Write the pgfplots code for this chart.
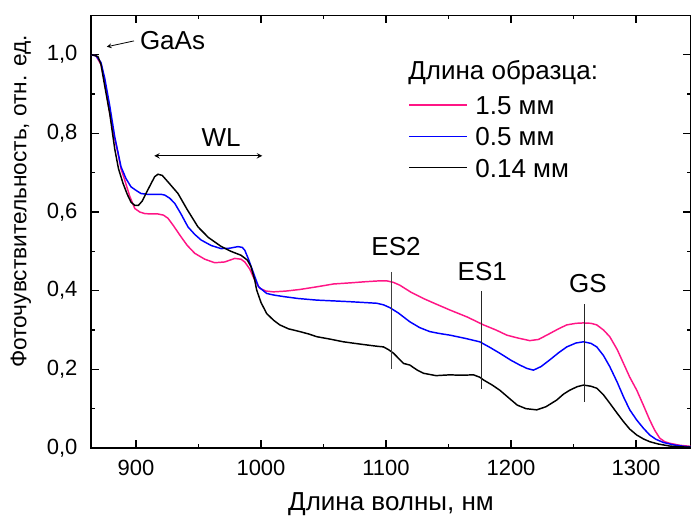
\documentclass[border=0pt]{standalone}
\usepackage{fontspec}
\setmainfont{Liberation Sans}
\usepackage{pgfplots}
\pgfplotsset{compat=1.18}

\definecolor{pinkline}{HTML}{FF1585}
\newcommand{\annfont}{\fontsize{19.5}{23}\selectfont}

\begin{document}
\begin{tikzpicture}
\begin{axis}[
    scale only axis,
    width=450pt, height=324.5pt,
    xmin=864, xmax=1344, ymin=0, ymax=1.1,
    clip=false,
    axis line style={line width=1.1pt},
    every tick/.style={line width=1.1pt, black},
    major tick length=6pt, minor tick length=3pt,
    xtick={900,1000,1100,1200,1300}, minor x tick num=1,
    ytick={0,0.2,0.4,0.6,0.8,1.0}, minor y tick num=1,
    tick label style={font=\fontsize{16.5}{19}\selectfont},
    /pgf/number format/assume math mode=true,
    xticklabel style={inner sep=0pt, yshift=-9pt,
        /pgf/number format/set thousands separator={}},
    yticklabel style={inner sep=0pt, xshift=-10pt,
        /pgf/number format/.cd, fixed, fixed zerofill, precision=1, use comma},
    xlabel={Длина волны, нм},
    ylabel={Фоточувствительность, отн. ед.},
    every axis x label/.style={at={(rel axis cs:0.5,-0.1433)}, anchor=base, font=\annfont},
    every axis y label/.style={at={(rel axis cs:-0.117,0.570)}, rotate=90, anchor=center,
        font=\fontsize{17}{20}\selectfont},
    legend style={draw=none, fill=none, font=\annfont, inner sep=0pt,
        at={(axis cs:1117.6,0.903)}, anchor=north west,
        row sep=5.5pt, column sep=3.75pt,
        nodes={inner sep=2pt, text height=14pt, text depth=0pt}},
    legend cell align=left,
    legend image code/.code={\draw[#1, line width=1.1pt] (0pt,0pt) -- (43.5pt,0pt);},
]
\addplot[pinkline, line width=1.1pt] coordinates {
(864,1.000) (868,0.997) (872,0.975) (875,0.93) (878,0.87) (882,0.80)
(885.6,0.749) (888,0.71) (891,0.681) (895,0.64) (899,0.609) (903,0.600)
(907,0.596) (912,0.595) (917.6,0.595) (922,0.592) (925.6,0.584) (930,0.565)
(936,0.537) (941,0.515) (947,0.495) (955,0.480) (963,0.471) (971,0.473)
(979,0.482) (984,0.480) (987,0.473) (991,0.455) (995,0.427) (999,0.406)
(1004,0.399) (1010,0.397) (1020,0.399) (1031,0.403) (1045,0.410) (1058,0.417)
(1072,0.420) (1084.6,0.423) (1095,0.425) (1100.6,0.425) (1106,0.421) (1111,0.414)
(1120,0.396) (1130,0.380) (1140,0.366) (1151,0.351) (1165,0.333) (1178,0.313)
(1188,0.300) (1196.6,0.287) (1205,0.280) (1215,0.273) (1222,0.276) (1231,0.291)
(1238,0.303) (1244.6,0.313) (1252,0.317) (1258,0.318) (1264,0.317) (1268.6,0.313)
(1274,0.300) (1279,0.283) (1285,0.250) (1290,0.215) (1295,0.180) (1300.6,0.147)
(1306,0.108) (1311,0.071) (1315,0.045) (1319,0.025) (1323,0.016) (1327,0.012)
(1335,0.007) (1344,0.004)
};
\addlegendentry{1.5 мм}
\addplot[blue, line width=1.1pt] coordinates {
(864,1.000) (868,0.997) (872,0.98) (875,0.94) (879,0.87) (883,0.791)
(888,0.715) (892,0.685) (896,0.664) (900,0.655) (904,0.647) (909,0.645)
(915,0.645) (920,0.645) (923,0.643) (927,0.635) (931,0.622) (936,0.595)
(941.6,0.562) (947,0.543) (952,0.529) (960,0.515) (968,0.507) (975,0.508)
(981.6,0.512) (985,0.510) (987,0.503) (990,0.48) (994,0.445) (998,0.410)
(1004.5,0.393) (1010,0.389) (1018,0.385) (1030,0.380) (1044.6,0.376) (1058,0.374)
(1071,0.372) (1082,0.370) (1092.6,0.368) (1098,0.364) (1103,0.357) (1110,0.343)
(1119,0.321) (1127,0.306) (1135,0.296) (1143,0.291) (1151,0.287) (1163,0.279)
(1175,0.270) (1183,0.256) (1191,0.241) (1200,0.223) (1207,0.211) (1213,0.202)
(1218,0.198) (1224,0.207) (1231,0.224) (1238,0.242) (1244.6,0.257) (1252,0.267)
(1258,0.270) (1264,0.266) (1268.6,0.257) (1274,0.235) (1279,0.207) (1285,0.167)
(1290,0.130) (1295,0.097) (1300.6,0.071) (1306,0.050) (1311,0.033) (1316,0.022)
(1322,0.014) (1330,0.008) (1339,0.004) (1344,0.003)
};
\addlegendentry{0.5 мм}
\addplot[black, line width=1.1pt] coordinates {
(864,1.000) (867,0.998) (869.6,0.995) (872,0.975) (875,0.92) (879,0.85)
(883,0.76) (886,0.71) (889.6,0.673) (893,0.645) (896,0.625) (899,0.617)
(902,0.617) (905,0.628) (908,0.647) (912,0.672) (915,0.690) (917.6,0.696)
(921,0.693) (926,0.675) (933.6,0.647) (941,0.606) (949.6,0.562) (958,0.535)
(968.3,0.512) (976,0.500) (984,0.490) (989,0.478) (992,0.461) (995,0.427)
(996.5,0.402) (1000,0.370) (1004.5,0.342) (1010,0.325) (1015,0.313) (1022,0.303)
(1031,0.296) (1038,0.290) (1044.6,0.283) (1055,0.277) (1066,0.270) (1075,0.266)
(1084.6,0.262) (1092,0.259) (1098,0.257) (1102,0.250) (1106,0.241) (1114,0.215)
(1119,0.211) (1125,0.198) (1130,0.190) (1140,0.184) (1151,0.186) (1160,0.185)
(1170,0.186) (1175,0.180) (1178,0.173) (1185,0.160) (1191,0.147) (1198,0.128)
(1205,0.109) (1212,0.100) (1220.6,0.097) (1228,0.105) (1236.6,0.122) (1242,0.137)
(1247,0.147) (1253,0.156) (1258,0.160) (1264,0.157) (1268.6,0.152) (1274,0.135)
(1279,0.114) (1285,0.088) (1290,0.067) (1295,0.048) (1300.6,0.033) (1306,0.023)
(1311,0.016) (1318,0.010) (1327,0.005) (1335,0.003) (1344,0.002)
};
\addlegendentry{0.14 мм}

% annotations
\node[font=\annfont, anchor=base west, inner sep=0pt] at (axis cs:1117.6,0.937) {Длина образца:};
\node[font=\annfont, anchor=west, inner sep=0pt] at (axis cs:903,1.035) {GaAs};
\draw[-stealth, line width=0.6pt] (axis cs:898.4,1.035) -- (axis cs:876.6,1.020);
\node[font=\annfont] at (axis cs:968,0.790) {WL};
\draw[stealth-stealth, line width=0.8pt] (axis cs:914.6,0.743) -- (axis cs:1001,0.743);
\node[font=\annfont] at (axis cs:1108,0.512) {ES2};
\draw[black!75, line width=0.6pt] (axis cs:1104.6,0.448) -- (axis cs:1104.6,0.200);
\node[font=\annfont] at (axis cs:1177,0.448) {ES1};
\draw[black!85, line width=0.6pt] (axis cs:1176,0.399) -- (axis cs:1176,0.150);
\node[font=\annfont] at (axis cs:1261.6,0.417) {GS};
\draw[black!85, line width=0.6pt] (axis cs:1258.6,0.365) -- (axis cs:1258.6,0.116);

\coordinate (bbsw) at (rel axis cs:0,0);
\coordinate (bbne) at (rel axis cs:1,1);
\end{axis}
\pgfresetboundingbox
\path ([shift={(-68.25pt,-50.25pt)}]bbsw) rectangle ([shift={(0pt,11.5pt)}]bbne);
\end{tikzpicture}
\end{document}
